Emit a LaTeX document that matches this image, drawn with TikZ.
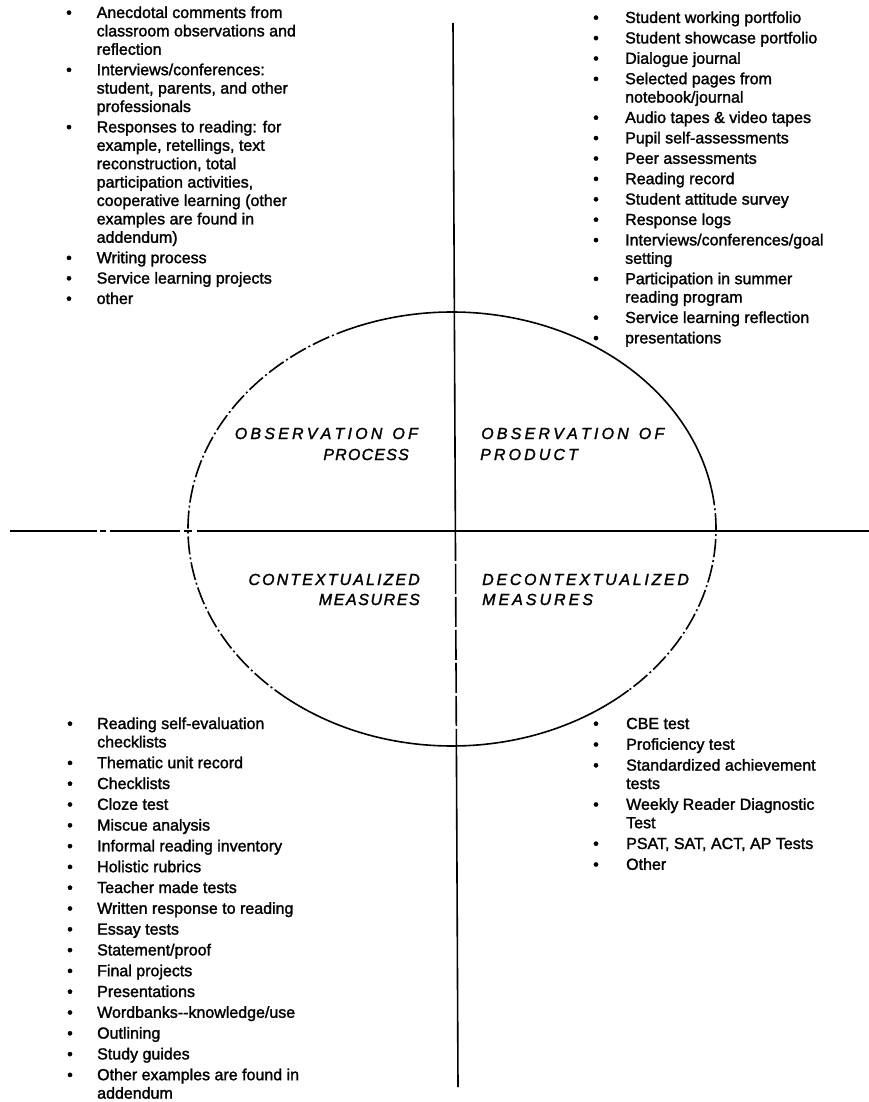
\documentclass[tikz,border=0pt]{standalone}
\usepackage{fontspec}
\setmainfont{Liberation Sans}
\newfontfamily\heavy[FakeBold=1.6]{Liberation Sans}
\newfontfamily\heavyit[FakeBold=1.6]{Liberation Sans Italic}
\usetikzlibrary{calc}
\makeatletter
\newcommand\spc[2]{\@tfor\my@ch:=#2\do{\my@ch\kern#1}\kern-#1}
\makeatother
\newcommand\blist[2]{\begin{tabular}[t]{@{}p{#1}@{}l@{}}#2\end{tabular}}
\begin{document}
\begin{tikzpicture}[x=1pt,y=1pt,
  axis/.style={line width=1.6pt},
  haxis/.style={line width=2.2pt},
  oval/.style={line width=1.6pt},
  ovaldash/.style={oval, dash pattern=on 18pt off 3pt on 2pt off 3pt},
  lst/.style={anchor=base west, inner sep=0pt, font=\heavy\fontsize{16}{18.4}\selectfont},
  lab/.style={inner sep=0pt, font=\heavyit\fontsize{16}{18}\selectfont}]
\useasboundingbox[fill=white] (0,0) rectangle (869,-1102);
% axes
\coordinate (c) at (452,-529);
\coordinate (vt) at (453,-23);
\coordinate (vb) at (458,-1087);
\coordinate (hl) at (10,-531);
\coordinate (hm) at (197,-531);
\coordinate (hr) at (869,-531);
\coordinate (vx) at ($(vt)!0.4774!(vb)$);
\coordinate (ve) at ($(vt)!0.6795!(vb)$);
\draw[haxis, dash pattern=on 87pt off 3pt on 6pt off 4pt on 70pt off 4pt on 8pt off 5pt] (hl) -- (hm);
\draw[haxis] (hm) -- (hr);
\draw[axis] (vt) -- (vx);
\draw[axis, dash pattern=on 30pt off 3pt] (vx) -- (ve);
\draw[axis] (ve) -- (vb);
% oval
\draw[oval] (c) ++(113:264pt and 217pt) arc[start angle=113, end angle=11, x radius=264pt, y radius=217pt];
\draw[ovaldash] (c) ++(11:264pt and 217pt) arc[start angle=11, end angle=-48, x radius=264pt, y radius=217pt];
\draw[oval] (c) ++(-48:264pt and 217pt) arc[start angle=-48, end angle=-128, x radius=264pt, y radius=217pt];
\draw[ovaldash] (c) ++(-128:264pt and 217pt) arc[start angle=-128, end angle=-247, x radius=264pt, y radius=217pt];
% quadrant labels
\node[lab, anchor=base east] (obsA) at (418,-439) {\spc{3.2pt}{OBSERVATION}\hspace{10pt}\spc{3.2pt}{OF}};
\node[lab, anchor=base east] (proc) at (409,-460) {\spc{1.2pt}{PROCESS}};
\node[lab, anchor=base west] (obsB) at (481,-439) {\spc{3.2pt}{OBSERVATION}\hspace{10pt}\spc{3.2pt}{OF}};
\node[lab, anchor=base west] (prod) at (480,-460) {\spc{3.1pt}{PRODUCT}};
\node[lab, anchor=base east] (ctx) at (420,-585) {\spc{2.1pt}{CONTEXTUALIZED}};
\node[lab, anchor=base east] (meA) at (420,-605) {\spc{1.6pt}{MEASURES}};
\node[lab, anchor=base west] (dctx) at (482,-585) {\spc{2.7pt}{DECONTEXTUALIZED}};
\node[lab, anchor=base west] (meB) at (482,-605) {\spc{3pt}{MEASURES}};
% lists
\node[lst] (process) at (66,-18) {\blist{30.5pt}{%
\textbullet & Anecdotal comments from\\
 & classroom observations and\\
 & reflection\\[2pt]
\textbullet & Interviews/conferences:\\
 & student, parents, and other\\
 & professionals\\[2pt]
\textbullet & Responses to reading: for\\
 & example, retellings, text\\
 & reconstruction, total\\
 & participation activities,\\
 & cooperative learning (other\\
 & examples are found in\\
 & addendum)\\[2pt]
\textbullet & Writing process\\[2pt]
\textbullet & Service learning projects\\[2pt]
\textbullet & other}};
\node[lst] (product) at (593,-23) {\blist{32pt}{%
\textbullet & Student working portfolio\\[2pt]
\textbullet & Student showcase portfolio\\[2pt]
\textbullet & Dialogue journal\\[2pt]
\textbullet & Selected pages from\\
 & notebook/journal\\[2pt]
\textbullet & Audio tapes \& video tapes\\[2pt]
\textbullet & Pupil self-assessments\\[2pt]
\textbullet & Peer assessments\\[2pt]
\textbullet & Reading record\\[2pt]
\textbullet & Student attitude survey\\[2pt]
\textbullet & Response logs\\[2pt]
\textbullet & Interviews/conferences/goal\\
 & setting\\[2pt]
\textbullet & Participation in summer\\
 & reading program\\[2pt]
\textbullet & Service learning reflection\\[2pt]
\textbullet & presentations}};
\node[lst] (context) at (67,-729) {\blist{30pt}{%
\textbullet & Reading self-evaluation\\
 & checklists\\[2.4pt]
\textbullet & Thematic unit record\\[2.4pt]
\textbullet & Checklists\\[2.4pt]
\textbullet & Cloze test\\[2.4pt]
\textbullet & Miscue analysis\\[2.4pt]
\textbullet & Informal reading inventory\\[2.4pt]
\textbullet & Holistic rubrics\\[2.4pt]
\textbullet & Teacher made tests\\[2.4pt]
\textbullet & Written response to reading\\[2.4pt]
\textbullet & Essay tests\\[2.4pt]
\textbullet & Statement/proof\\[2.4pt]
\textbullet & Final projects\\[2.4pt]
\textbullet & Presentations\\[2.4pt]
\textbullet & Wordbanks--knowledge/use\\[2.4pt]
\textbullet & Outlining\\[2.4pt]
\textbullet & Study guides\\[2.4pt]
\textbullet & Other examples are found in\\
 & addendum}};
\node[lst] (decontext) at (593,-729) {\blist{33pt}{%
\textbullet & CBE test\\[2.4pt]
\textbullet & Proficiency test\\[2.4pt]
\textbullet & Standardized achievement\\
 & tests\\[2.4pt]
\textbullet & Weekly Reader Diagnostic\\
 & Test\\[2.4pt]
\textbullet & PSAT, SAT, ACT, AP Tests\\[2.4pt]
\textbullet & Other}};
\end{tikzpicture}
\end{document}
